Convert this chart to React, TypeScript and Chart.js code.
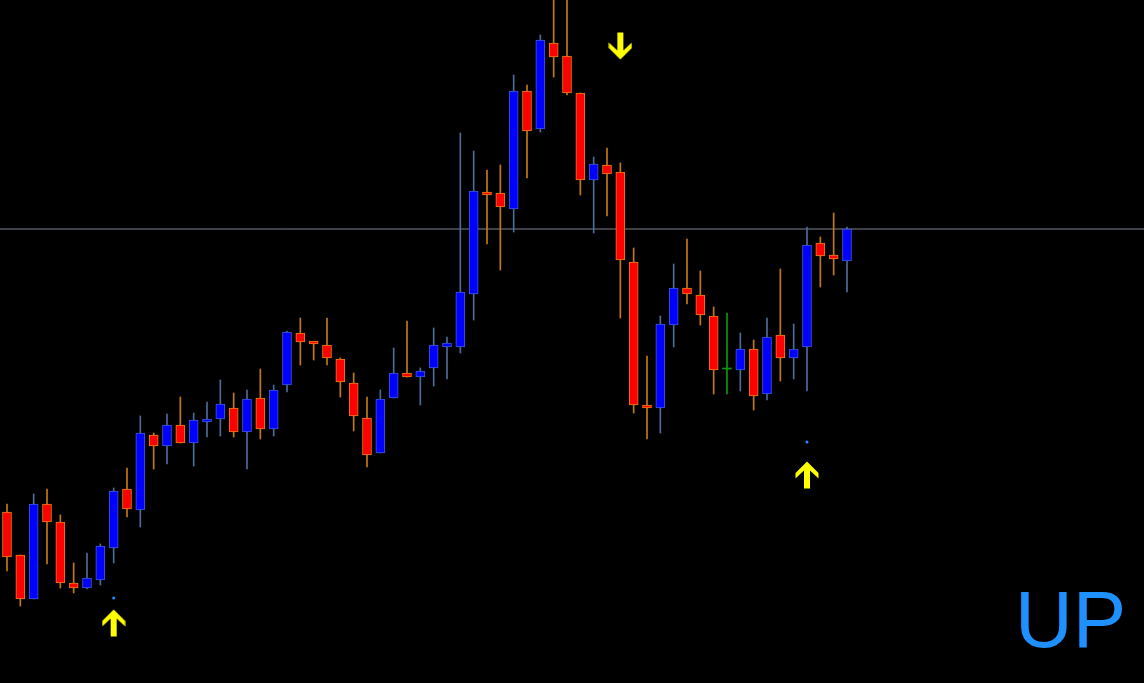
import React, { useEffect, useRef } from "react";
import { Chart, registerables } from "chart.js";

Chart.register(...registerables);

// OHLC prices (chart points)
const opens = [171, 128, 84, 179, 161, 100, 95, 103, 135, 194, 173, 248, 237, 258, 240, 261, 264, 275, 251, 285, 254, 298, 350, 341, 338, 324, 300, 265, 230, 285, 310, 306, 315, 336, 336, 389, 490, 490, 474, 592, 554, 640, 627, 590, 503, 518, 511, 421, 277, 275, 358, 395, 388, 367, 314, 313, 334, 289, 348, 325, 336, 440, 428, 422];
const highs = [179, 128, 189, 194, 168, 120, 130, 139, 195, 215, 267, 250, 269, 286, 270, 281, 303, 290, 293, 314, 298, 352, 365, 341, 365, 325, 310, 286, 293, 335, 362, 315, 355, 346, 550, 532, 513, 518, 608, 598, 648, 688, 688, 590, 526, 535, 520, 435, 327, 367, 419, 444, 412, 376, 370, 350, 343, 365, 414, 359, 456, 446, 470, 456];
const lows = [112, 77, 84, 119, 95, 90, 94, 98, 120, 166, 156, 214, 219, 240, 217, 246, 247, 246, 214, 244, 247, 291, 318, 323, 318, 286, 252, 216, 230, 285, 306, 278, 297, 304, 330, 363, 439, 413, 451, 505, 551, 606, 588, 488, 450, 467, 365, 270, 244, 250, 336, 379, 358, 289, 289, 292, 273, 283, 302, 304, 292, 396, 408, 391];
const closes = [126, 84, 179, 161, 100, 95, 105, 137, 192, 174, 250, 237, 258, 240, 263, 263, 279, 251, 284, 254, 293, 351, 341, 339, 325, 301, 267, 228, 284, 310, 306, 312, 338, 340, 391, 492, 488, 476, 592, 552, 643, 626, 590, 503, 519, 509, 423, 278, 275, 359, 395, 389, 368, 313, 314, 334, 287, 346, 325, 334, 438, 427, 424, 454];

const bidPrice = 454;

// signal markers
const upArrowBars = [8, 60];
const upArrowPrices = [60, 208];
const downArrowBars = [46];
const downArrowPrices = [637];
const dotBars = [8, 60];
const dotPrices = [85, 241];
const signalText = "UP";

const W = 1144;
const H = 683;
const barStep = 840 / 63;
const xMin = -7 / barStep;
const xMax = xMin + W / barStep;

function makeArrow(up: boolean): HTMLCanvasElement {
  const c = document.createElement("canvas");
  c.width = 24;
  c.height = 28;
  const ctx = c.getContext("2d")!;
  const pts: [number, number][] = [
    [12, 0.5],
    [23.5, 12],
    [23.5, 17.5],
    [15, 9.5],
    [15, 27.5],
    [9, 27.5],
    [9, 9.5],
    [0.5, 17.5],
    [0.5, 12],
  ];
  ctx.fillStyle = "#ffff00";
  ctx.beginPath();
  pts.forEach(([px, py], k) => {
    const yy = up ? py : 28 - py;
    if (k === 0) ctx.moveTo(px, yy);
    else ctx.lineTo(px, yy);
  });
  ctx.closePath();
  ctx.fill();
  return c;
}

export default function App() {
  const ref = useRef<HTMLCanvasElement | null>(null);

  useEffect(() => {
    document.body.style.margin = "0";
    document.body.style.background = "#000";
    const canvas = ref.current;
    if (!canvas) return;

    const bull = "#0000ff";
    const bear = "#ff0000";
    const bullBorder = "#3a5ad8";
    const bearBorder = "#e88010";
    const bullWick = "#4c6c9c";
    const bearWick = "#c47a12";
    const dojiColor = "#0a9a0a";

    const n = opens.length;
    const idx = Array.from({ length: n }, (_, i) => i);
    const dir = idx.map((i) => Math.sign(closes[i] - opens[i]));

    const bodyData = idx.map((i) =>
      dir[i] === 0 ? { x: i, y: null as any } : { x: i, y: [opens[i], closes[i]] }
    );
    const dojiData = idx.map((i) =>
      dir[i] === 0 ? { x: i, y: [opens[i], closes[i]] } : { x: i, y: null as any }
    );
    const wickData = idx.map((i) => ({ x: i, y: [lows[i], highs[i]] }));

    const chart = new Chart(canvas, {
      type: "bar",
      data: {
        datasets: [
          {
            type: "line",
            data: [
              { x: xMin - 1, y: bidPrice },
              { x: xMax + 1, y: bidPrice },
            ],
            borderColor: "#7d8290",
            borderWidth: 1,
            pointRadius: 0,
            pointHoverRadius: 0,
            order: 10,
          } as any,
          {
            type: "bar",
            data: wickData,
            backgroundColor: idx.map((i) =>
              dir[i] > 0 ? bullWick : dir[i] < 0 ? bearWick : dojiColor
            ),
            borderWidth: 0,
            barThickness: 1,
            grouped: false,
            order: 5,
          } as any,
          {
            type: "bar",
            data: bodyData,
            backgroundColor: idx.map((i) => (dir[i] > 0 ? bull : bear)),
            borderColor: idx.map((i) => (dir[i] > 0 ? bullBorder : bearBorder)),
            borderWidth: 1,
            borderSkipped: false,
            barThickness: 9,
            minBarLength: 3,
            grouped: false,
            order: 3,
          } as any,
          {
            type: "bar",
            data: dojiData,
            backgroundColor: dojiColor,
            borderWidth: 0,
            barThickness: 9,
            minBarLength: 1,
            grouped: false,
            order: 3,
          } as any,
          {
            type: "scatter",
            data: upArrowBars.map((b, k) => ({ x: b, y: upArrowPrices[k] })),
            pointStyle: makeArrow(true),
            order: 1,
          } as any,
          {
            type: "scatter",
            data: downArrowBars.map((b, k) => ({ x: b, y: downArrowPrices[k] })),
            pointStyle: makeArrow(false),
            order: 1,
          } as any,
          {
            type: "scatter",
            data: dotBars.map((b, k) => ({ x: b, y: dotPrices[k] })),
            pointStyle: "circle",
            pointRadius: 1.5,
            backgroundColor: "#1e90ff",
            borderWidth: 0,
            order: 1,
          } as any,
        ],
      },
      options: {
        animation: false,
        responsive: false,
        maintainAspectRatio: false,
        layout: { padding: 0, autoPadding: false },
        plugins: {
          legend: { display: false },
          tooltip: { enabled: false },
        },
        scales: {
          x: { type: "linear", min: xMin, max: xMax, offset: false, display: false },
          y: { type: "linear", min: 0, max: H, display: false },
        },
      } as any,
    });

    return () => chart.destroy();
  }, []);

  return (
    <div
      style={{
        position: "fixed",
        left: 0,
        top: 0,
        width: W,
        height: H,
        background: "#000",
        overflow: "hidden",
      }}
    >
      <canvas ref={ref} width={W} height={H} style={{ width: W, height: H, display: "block" }} />
      <div
        style={{
          position: "absolute",
          left: 1015,
          top: 580,
          fontFamily: "'Liberation Sans', Arial, sans-serif",
          fontSize: 80,
          lineHeight: "80px",
          color: "#1e90ff",
          whiteSpace: "nowrap",
        }}
      >
        {signalText}
      </div>
    </div>
  );
}
